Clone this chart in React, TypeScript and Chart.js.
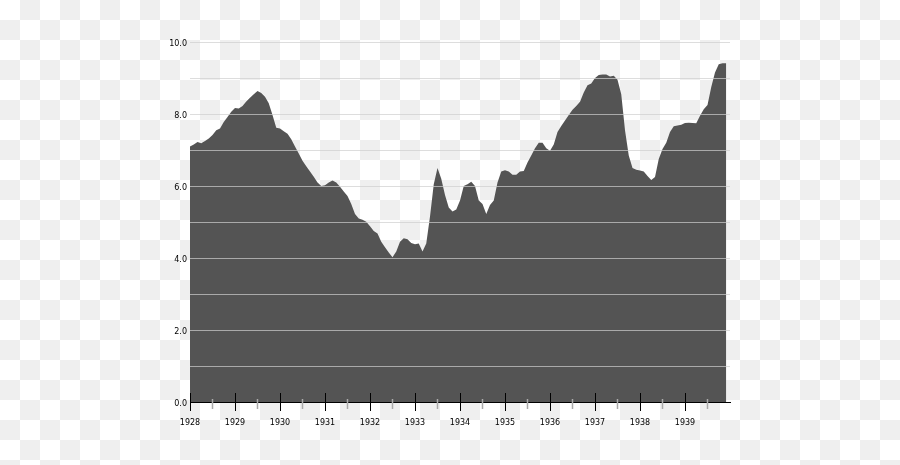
import React, { useEffect, useRef } from "react";
import { Chart } from "chart.js/auto";

// monthly values, Jan 1928 .. Dec 1939
const startYear = 1928;
const endYear = 1940;
const yearTicks = [1928, 1929, 1930, 1931, 1932, 1933, 1934, 1935, 1936, 1937, 1938, 1939];
const rates = [
  7.1, 7.15, 7.22, 7.19, 7.25, 7.32, 7.42, 7.55, 7.6, 7.78, 7.92, 8.06, // 1928
  8.17, 8.15, 8.22, 8.35, 8.45, 8.55, 8.64, 8.58, 8.48, 8.3, 7.97, 7.62, // 1929
  7.6, 7.52, 7.45, 7.3, 7.1, 6.9, 6.7, 6.55, 6.4, 6.26, 6.1, 6.0, // 1930
  6.02, 6.1, 6.15, 6.1, 5.98, 5.85, 5.72, 5.5, 5.22, 5.1, 5.06, 5.01, // 1931
  4.88, 4.75, 4.68, 4.45, 4.3, 4.15, 4.02, 4.18, 4.45, 4.55, 4.52, 4.42, // 1932
  4.38, 4.4, 4.18, 4.4, 5.15, 6.05, 6.5, 6.2, 5.75, 5.4, 5.29, 5.35, // 1933
  5.6, 6.0, 6.05, 6.12, 6.0, 5.6, 5.5, 5.22, 5.47, 5.6, 6.1, 6.4, // 1934
  6.44, 6.4, 6.31, 6.31, 6.4, 6.42, 6.65, 6.85, 7.05, 7.2, 7.2, 7.05, // 1935
  6.98, 7.15, 7.5, 7.67, 7.82, 7.97, 8.12, 8.22, 8.34, 8.6, 8.8, 8.85, // 1936
  9.0, 9.08, 9.1, 9.1, 9.04, 9.06, 8.95, 8.55, 7.55, 6.85, 6.5, 6.45, // 1937
  6.43, 6.4, 6.28, 6.17, 6.25, 6.75, 7.03, 7.2, 7.5, 7.66, 7.68, 7.7, // 1938
  7.75, 7.76, 7.75, 7.74, 7.95, 8.13, 8.25, 8.75, 9.15, 9.38, 9.41, 9.41, // 1939
];
const yMax = 10;
const yLabels = [0, 2, 4, 6, 8, 10];
const fontFamily = "'DejaVu Sans', sans-serif";

// gridlines, axis ticks and y labels go over the filled area
const overlayPlugin = {
  id: "overlay",
  afterDatasetsDraw(chart: any) {
    const { ctx, chartArea, scales } = chart;
    const xs = scales.x;
    const ys = scales.y;
    const line = (x1: number, y1: number, x2: number, y2: number) => {
      ctx.beginPath();
      ctx.moveTo(x1, y1);
      ctx.lineTo(x2, y2);
      ctx.stroke();
    };
    ctx.save();
    ctx.strokeStyle = "rgba(206, 206, 206, 0.7)";
    ctx.lineWidth = 1;
    for (let v = 1; v <= yMax; v++) {
      const py = Math.round(ys.getPixelForValue(v)) + 0.5;
      line(chartArea.left, py, chartArea.right, py);
    }
    const base = ys.getPixelForValue(0);
    ctx.strokeStyle = "#aaaaaa";
    ctx.lineWidth = 1.5;
    yearTicks.forEach((yr) => {
      const px = xs.getPixelForValue(yr + 0.5);
      line(px, base - 3, px, base + 7);
    });
    ctx.strokeStyle = "#000000";
    ctx.lineWidth = 1;
    yearTicks.forEach((yr) => {
      const px = Math.round(xs.getPixelForValue(yr)) + 0.5;
      line(px, base - 9, px, base + 9);
    });
    ctx.fillStyle = "#000000";
    ctx.font = `8px ${fontFamily}`;
    ctx.textAlign = "right";
    ctx.textBaseline = "middle";
    yLabels.forEach((v) => {
      ctx.fillText(v.toFixed(1), chartArea.left - 3, ys.getPixelForValue(v) + 1.5);
    });
    ctx.restore();
  },
};

const App = () => {
  const canvasRef = useRef<HTMLCanvasElement>(null);
  const chartRef = useRef<Chart | null>(null);

  useEffect(() => {
    if (!canvasRef.current) return;
    const points = rates.map((v, i) => ({ x: startYear + i / 12, y: v }));
    const font = { family: fontFamily, size: 8 };

    chartRef.current = new Chart(canvasRef.current, {
      type: "line",
      data: {
        datasets: [
          {
            data: points,
            backgroundColor: "#545454",
            borderColor: "#545454",
            borderWidth: 0,
            pointRadius: 0,
            fill: "origin",
            tension: 0,
          },
        ],
      },
      options: {
        responsive: false,
        animation: false,
        layout: { padding: { top: 42, right: 170, left: 0, bottom: 0 } },
        plugins: {
          legend: { display: false },
          tooltip: { enabled: false },
        },
        scales: {
          x: {
            type: "linear",
            min: startYear,
            max: endYear,
            afterFit: (s: any) => {
              s.height = 63;
            },
            afterBuildTicks: (s: any) => {
              s.ticks = yearTicks.map((v) => ({ value: v }));
            },
            grid: { display: false, drawTicks: false },
            border: { display: true, color: "#000000", width: 1 },
            ticks: {
              color: "#000000",
              font,
              padding: 16,
              maxRotation: 0,
              autoSkip: false,
              callback: (v: any) => String(v),
            },
          },
          y: {
            min: 0,
            max: yMax,
            afterFit: (s: any) => {
              s.width = 190;
            },
            grid: { display: false, drawTicks: false },
            border: { display: false },
            ticks: { display: false, stepSize: 1 },
          },
        },
      },
      plugins: [overlayPlugin],
    });

    return () => {
      if (chartRef.current) {
        chartRef.current.destroy();
        chartRef.current = null;
      }
    };
  }, []);

  return (
    <div
      style={{
        position: "fixed",
        left: 0,
        top: 0,
        width: 900,
        height: 465,
        background: "repeating-conic-gradient(#efefef 0% 25%, #ffffff 0% 50%) 0 0 / 40px 40px",
      }}
    >
      <canvas ref={canvasRef} width={900} height={465} style={{ display: "block" }} />
    </div>
  );
};

export default App;
